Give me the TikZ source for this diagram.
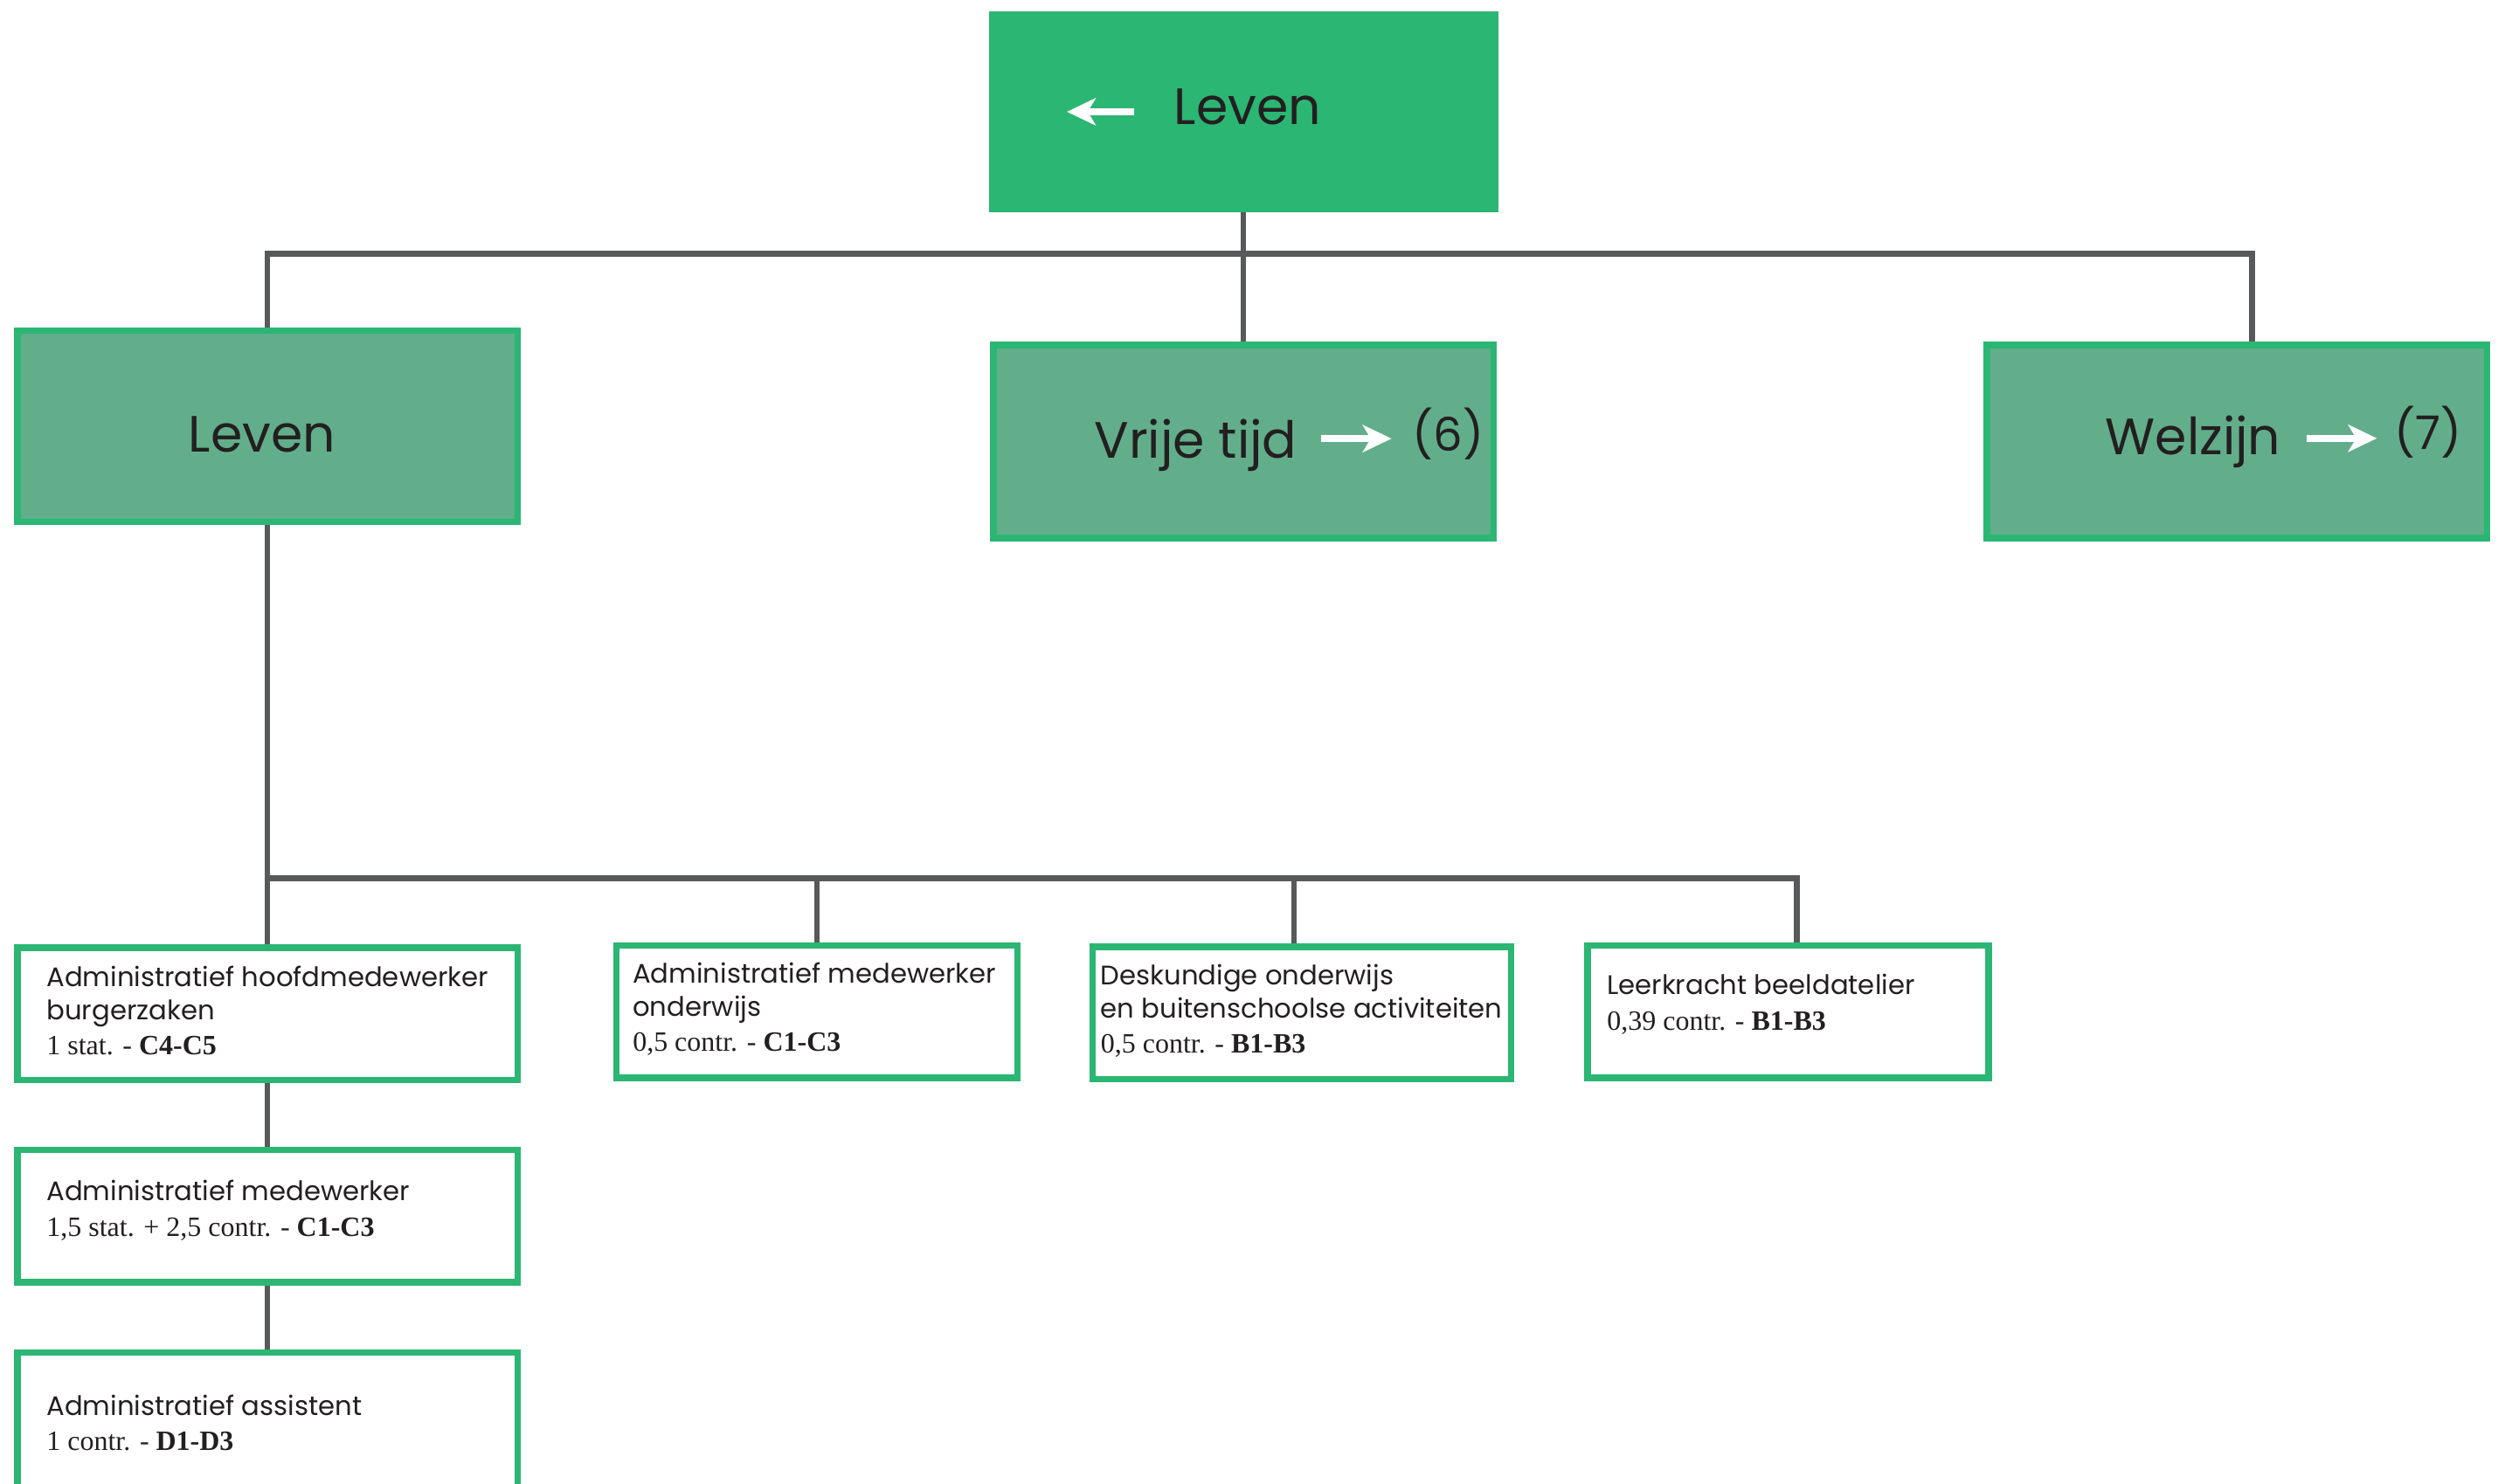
\documentclass[tikz,border=0pt]{standalone}
\usepackage{fontspec}
\setmainfont{Poppins}
\newfontfamily\slabfont{Liberation Serif}
\usetikzlibrary{arrows.meta,backgrounds}

\definecolor{groenvol}{HTML}{2BB673}
\definecolor{groenzacht}{HTML}{62AE8B}
\definecolor{lijngrijs}{HTML}{58595B}
\definecolor{tekstzwart}{HTML}{231F20}

\tikzset{
  topvak/.style={fill=groenvol, inner sep=0pt, minimum width=319pt, minimum height=126pt},
  dienstvak/.style={fill=groenzacht, draw=groenvol, line width=4pt, inner sep=0pt, minimum width=313pt, minimum height=121pt},
  functievak/.style={fill=white, draw=groenvol, line width=4pt, inner sep=0pt, minimum height=83pt},
  grootlabel/.style={inner sep=0pt, text=tekstzwart, font=\fontsize{32}{36}\selectfont},
  nrlabel/.style={grootlabel, anchor=base west, font=\fontsize{29}{34}\selectfont},
  functielabel/.style={inner sep=0pt, anchor=west, align=left, text=tekstzwart, font=\fontsize{16.8}{21}\selectfont},
  lijn/.style={draw=lijngrijs, line width=3.5pt},
  witpijl/.style={draw=white, line width=4.5pt, -{Stealth[length=18pt,width=17pt,inset=5pt]}}
}
\newcommand{\graad}[2]{{\slabfont\fontsize{17.5}{21}\selectfont #1 - \textbf{#2}}}

\begin{document}
\begin{tikzpicture}[x=1pt,y=-1pt]
\useasboundingbox (0,0) rectangle (1564,929.4);

\node[topvak] (top) at (778.5,70) {};
\node[dienstvak, minimum height=120pt] (lev) at (167.5,267) {};
\node[dienstvak] (vt) at (778.5,276.5) {};
\node[dienstvak] (wz) at (1400.5,276.5) {};

\node[grootlabel, anchor=base west] (toplbl) at (735,77.7) {Leven};
\node[grootlabel, anchor=base] (levlbl) at (164,283) {Leven};
\node[grootlabel, anchor=base west] (vtlbl) at (685,287) {Vrije tijd};
\node[nrlabel] (vtnr) at (884,282.5) {(6)};
\node[grootlabel, anchor=base west] (wzlbl) at (1318,284.5) {Welzijn};
\node[nrlabel] (wznr) at (1499,281.5) {(7)};

\draw[witpijl] ([xshift=-25pt,yshift=7.7pt]toplbl.base west) -- ++(-42,0);
\draw[witpijl] ([xshift=15pt,yshift=12.3pt]vtlbl.base east) -- ++(44,0);
\draw[witpijl] ([xshift=16pt,yshift=10pt]wzlbl.base east) -- ++(44,0);

\node[functievak, minimum width=313pt] (a1) at (167.5,635) {};
\node[functievak, minimum width=251pt] (a2) at (511.5,633.5) {};
\node[functievak, minimum width=262pt] (a3) at (815,634.5) {};
\node[functievak, minimum width=251pt] (a4) at (1119.5,633.5) {};
\node[functievak, minimum width=313pt] (b1) at (167.5,761.5) {};
\node[functievak, minimum width=313pt, minimum height=91pt] (b2) at (167.5,892.5) {};

\node[functielabel] (a1tekst) at (29,633) {Administratief hoofdmedewerker\\burgerzaken\\[1pt]\graad{1 stat.}{C4-C5}};
\node[functielabel] (a2tekst) at (396,632) {Administratief medewerker\\onderwijs\\[1pt]\graad{0,5 contr.}{C1-C3}};
\node[functielabel] (a3tekst) at (689,633) {Deskundige onderwijs\\en buitenschoolse activiteiten\\[1pt]\graad{0,5 contr.}{B1-B3}};
\node[functielabel] (a4tekst) at (1006,629) {Leerkracht beeldatelier\\[1pt]\graad{0,39 contr.}{B1-B3}};
\node[functielabel] (b1tekst) at (29,758) {Administratief medewerker\\[1pt]\graad{1,5 stat. + 2,5 contr.}{C1-C3}};
\node[functielabel] (b2tekst) at (29,891) {Administratief assistent\\[1pt]\graad{1 contr.}{D1-D3}};

\coordinate (bus1) at (778.5,159);
\coordinate (wzin) at (1410,276.5);
\coordinate (bus2) at (511.5,550);
\coordinate (a3in) at (810,634.5);
\coordinate (a4in) at (1125,633.5);

\begin{scope}[on background layer]
\draw[lijn] (top) -- (vt);
\draw[lijn] (lev) |- (bus1) -| (wzin);
\draw[lijn] (lev) -- (b2);
\draw[lijn] (a1) |- (bus2) -| (a4in);
\draw[lijn] (a2) -- (bus2);
\draw[lijn] (a3in) -- (a3in |- bus2);
\end{scope}
\end{tikzpicture}
\end{document}
